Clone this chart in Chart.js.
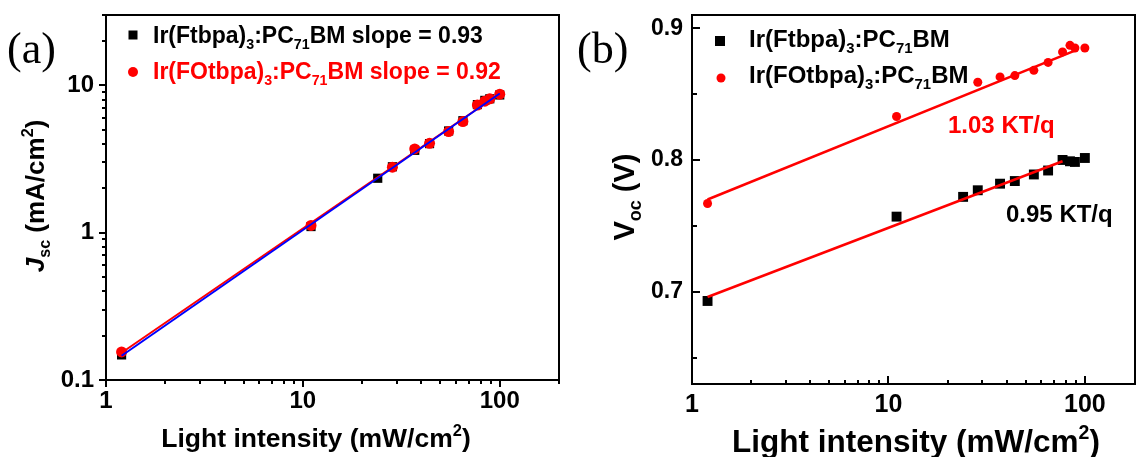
<!DOCTYPE html>
<html><head><meta charset="utf-8">
<script src="https://cdn.jsdelivr.net/npm/chart.js@4/dist/chart.umd.min.js"></script>
<style>
html,body{margin:0;padding:0;background:#fff;overflow:hidden;width:1142px;height:457px}
#wrapA{position:absolute;left:0;top:0;width:571px;height:457px}
#wrapB{position:absolute;left:571px;top:0;width:571px;height:457px}
canvas{display:block}
</style></head><body>
<div id="wrapA"><canvas id="cA" width="571" height="457"></canvas></div>
<div id="wrapB"><canvas id="cB" width="571" height="457"></canvas></div>
<script>
// ---------- data ----------
const intensityBlack = [1.2, 11, 24, 28.5, 37, 44, 55, 65, 77, 84, 89, 100];
const intensityRed   = [1.2, 11, 28.5, 37, 44, 55, 65, 77, 84, 89, 100];
const jscBlack = [0.148, 1.10, 2.34, 2.80, 3.62, 4.02, 4.90, 5.75, 7.40, 7.90, 8.10, 8.60];
const jscRed   = [0.155, 1.12, 2.78, 3.70, 4.04, 4.85, 5.68, 7.35, 7.80, 8.10, 8.70];
const fitJscX     = [1.2, 100];
const fitJscBlack = [0.146, 8.8];
const fitJscRed   = [0.153, 8.8];
const vocBlack = [0.693, 0.757, 0.772, 0.777, 0.782, 0.784, 0.789, 0.792, 0.800, 0.799, 0.7985, 0.8015];
const vocRed   = [0.767, 0.833, 0.859, 0.863, 0.864, 0.868, 0.874, 0.882, 0.887, 0.885, 0.885];
const fitVocRedX   = [1.2, 89];
const fitVocRed    = [0.770, 0.883];
const fitVocBlackX = [1.2, 77];
const fitVocBlack  = [0.696, 0.799];
const xTickLabels   = [1, 10, 100];
const jscTickLabels = [0.1, 1, 10];
const vocTicks      = [0.65, 0.7, 0.75, 0.8, 0.85, 0.9];
const vocTickLabels = ['0.7', '0.8', '0.9'];

const FONT = '"Liberation Sans", Arial, Helvetica, sans-serif';
const SERIF = '"Liberation Serif", "Times New Roman", serif';
const RED = '#ff0000', BLUE = '#0000ff', BLACK = '#000000';

const pts = (xs, ys) => xs.map((x, i) => ({x: x, y: ys[i]}));
const near = (a, b) => Math.abs(a - b) < 1e-7 * Math.max(1, Math.abs(b));
const niceLog = v => { const m = v / Math.pow(10, Math.floor(Math.log10(v) + 1e-9)); return Math.abs(m - Math.round(m)) < 1e-6; };

function fontFor(p, fs) {
  const size = (p.sub || p.sup) ? fs * 0.62 : fs;
  return (p.italic ? 'italic ' : '') + 'bold ' + size + 'px ' + FONT;
}
function drawRich(ctx, parts, x, y, fs, color, align) {
  let w = 0;
  for (const p of parts) { ctx.font = fontFor(p, fs); w += ctx.measureText(p.t).width; }
  let cx = align === 'center' ? x - w / 2 : (align === 'right' ? x - w : x);
  ctx.textBaseline = 'alphabetic'; ctx.textAlign = 'left';
  for (const p of parts) {
    ctx.font = fontFor(p, fs);
    ctx.fillStyle = p.color || color;
    const dy = p.sub ? fs * 0.24 : (p.sup ? -fs * 0.42 : 0);
    ctx.fillText(p.t, cx, y + dy);
    cx += ctx.measureText(p.t).width;
  }
}
function drawTicks(chart, id, cfg) {
  const s = chart.scales[id], ctx = chart.ctx, a = chart.chartArea;
  ctx.save(); ctx.strokeStyle = BLACK; ctx.lineWidth = 2;
  for (const t of s.ticks) {
    const v = t.value;
    if (cfg.log && !niceLog(v)) continue;
    const major = cfg.majors.some(m => near(v, m));
    const len = major ? cfg.major : cfg.minor;
    const dir = major ? cfg.majorDir : cfg.minorDir;
    const p = Math.round(s.getPixelForValue(v));
    ctx.beginPath();
    if (s.isHorizontal()) { ctx.moveTo(p, a.bottom); ctx.lineTo(p, a.bottom + dir * len); }
    else { ctx.moveTo(a.left, p); ctx.lineTo(a.left - dir * len, p); }
    ctx.stroke();
  }
  ctx.restore();
}
function frame(chart) {
  const ctx = chart.ctx, a = chart.chartArea;
  ctx.save(); ctx.strokeStyle = BLACK; ctx.lineWidth = 2;
  ctx.strokeRect(a.left, a.top, a.right - a.left, a.bottom - a.top);
  ctx.restore();
}
function marker(ctx, type, x, y, size, color) {
  ctx.fillStyle = color;
  if (type === 'rect') ctx.fillRect(x - size / 2, y - size / 2, size, size);
  else { ctx.beginPath(); ctx.arc(x, y, size / 2, 0, Math.PI * 2); ctx.fill(); }
}
const tickFont = size => ({family: FONT, size: size, weight: 'bold'});
const fitX = (h) => s => { s.height = h; s.paddingLeft = 0; s.paddingRight = 0; };
const fitY = (w) => s => { s.width = w; s.paddingTop = 0; s.paddingBottom = 0; };

// ---------- chart (a) ----------
const plugA = {
  id: 'decorA',
  afterDraw(chart) {
    const ctx = chart.ctx;
    frame(chart);
    drawTicks(chart, 'x', {log: true, majors: xTickLabels, major: 7, minor: 4, majorDir: 1, minorDir: 1});
    drawTicks(chart, 'y', {log: true, majors: jscTickLabels, major: 7, minor: 4, majorDir: 1, minorDir: 1});
    ctx.save();
    ctx.fillStyle = BLACK; ctx.font = '44px ' + SERIF; ctx.textBaseline = 'alphabetic'; ctx.textAlign = 'left';
    ctx.fillText('(a)', 7, 63);
    marker(ctx, 'rect', 133, 35, 9, BLACK);
    drawRich(ctx, [{t: 'Ir(Ftbpa)'}, {t: '3', sub: true}, {t: ':PC'}, {t: '71', sub: true}, {t: 'BM slope = 0.93'}], 153, 43, 23, BLACK, 'left');
    marker(ctx, 'circle', 133, 72, 10, RED);
    drawRich(ctx, [{t: 'Ir(FOtbpa)'}, {t: '3', sub: true}, {t: ':PC'}, {t: '71', sub: true}, {t: 'BM slope = 0.92'}], 153, 79, 23, RED, 'left');
    drawRich(ctx, [{t: 'Light intensity (mW/cm'}, {t: '2', sup: true}, {t: ')'}], 316, 447, 26.5, BLACK, 'center');
    ctx.translate(44, 196); ctx.rotate(-Math.PI / 2);
    drawRich(ctx, [{t: 'J', italic: true}, {t: 'sc', sub: true}, {t: ' (mA/cm'}, {t: '2', sup: true}, {t: ')'}], 0, 0, 26, BLACK, 'center');
    ctx.restore();
  }
};
new Chart(document.getElementById('cA'), {
  type: 'scatter',
  data: {datasets: [
    {data: pts(fitJscX, fitJscBlack), showLine: true, fill: false, borderColor: BLUE, borderWidth: 2, pointRadius: 0, order: 0},
    {data: pts(fitJscX, fitJscRed), showLine: true, fill: false, borderColor: RED, borderWidth: 2, pointRadius: 0, order: 1},
    {data: pts(intensityRed, jscRed), pointStyle: 'circle', pointRadius: 5.5, backgroundColor: RED, borderColor: RED, borderWidth: 0, order: 2},
    {data: pts(intensityBlack, jscBlack), pointStyle: 'rect', pointRadius: 6.5, backgroundColor: BLACK, borderColor: BLACK, borderWidth: 0, order: 3}
  ]},
  options: {
    responsive: false, animation: false, devicePixelRatio: 1,
    layout: {padding: {left: 0, top: 15, right: 12, bottom: 0}},
    plugins: {legend: {display: false}, tooltip: {enabled: false}},
    scales: {
      x: {type: 'logarithmic', min: 1, max: 200, grid: {display: false, drawTicks: false}, border: {display: false},
          ticks: {autoSkip: false, maxRotation: 0, minRotation: 0, padding: 7, color: BLACK, font: tickFont(24),
                  callback: v => { const l = xTickLabels.find(m => near(v, m)); return l === undefined ? '' : String(l); }},
          afterFit: fitX(77)},
      y: {type: 'logarithmic', min: 0.1, max: 30, grid: {display: false, drawTicks: false}, border: {display: false},
          ticks: {autoSkip: false, padding: 12, color: BLACK, font: tickFont(24),
                  callback: v => { const l = jscTickLabels.find(m => near(v, m)); return l === undefined ? '' : String(l); }},
          afterFit: fitY(106)}
    }
  },
  plugins: [plugA]
});

// ---------- chart (b) ----------
const plugB = {
  id: 'decorB',
  afterDraw(chart) {
    const ctx = chart.ctx;
    frame(chart);
    drawTicks(chart, 'x', {log: true, majors: xTickLabels, major: 8, minor: 4, majorDir: -1, minorDir: -1});
    drawTicks(chart, 'y', {log: false, majors: vocTickLabels.map(Number), major: 8, minor: 5, majorDir: -1, minorDir: -1});
    ctx.save();
    ctx.fillStyle = BLACK; ctx.font = '44px ' + SERIF; ctx.textBaseline = 'alphabetic'; ctx.textAlign = 'left';
    ctx.fillText('(b)', 6, 63);
    marker(ctx, 'rect', 149, 41, 10, BLACK);
    drawRich(ctx, [{t: 'Ir(Ftbpa)'}, {t: '3', sub: true}, {t: ':PC'}, {t: '71', sub: true}, {t: 'BM'}], 178, 47, 24, BLACK, 'left');
    marker(ctx, 'circle', 150, 78, 9, RED);
    drawRich(ctx, [{t: 'Ir(FOtbpa)'}, {t: '3', sub: true}, {t: ':PC'}, {t: '71', sub: true}, {t: 'BM'}], 178, 83, 24, BLACK, 'left');
    drawRich(ctx, [{t: '1.03 KT/q'}], 377, 133, 24, RED, 'left');
    drawRich(ctx, [{t: '0.95 KT/q'}], 435, 222, 24, BLACK, 'left');
    drawRich(ctx, [{t: 'Light intensity (mW/cm'}, {t: '2', sup: true}, {t: ')'}], 345, 452, 31.5, BLACK, 'center');
    ctx.translate(63, 197); ctx.rotate(-Math.PI / 2);
    drawRich(ctx, [{t: 'V'}, {t: 'oc', sub: true}, {t: ' (V)'}], 0, 0, 29, BLACK, 'center');
    ctx.restore();
  }
};
new Chart(document.getElementById('cB'), {
  type: 'scatter',
  data: {datasets: [
    {data: pts(fitVocRedX, fitVocRed), showLine: true, fill: false, borderColor: RED, borderWidth: 2.5, pointRadius: 0, order: 0},
    {data: pts(fitVocBlackX, fitVocBlack), showLine: true, fill: false, borderColor: RED, borderWidth: 2.5, pointRadius: 0, order: 1},
    {data: pts(intensityRed, vocRed), pointStyle: 'circle', pointRadius: 4.5, backgroundColor: RED, borderColor: RED, borderWidth: 0, order: 2},
    {data: pts(intensityBlack, vocBlack), pointStyle: 'rect', pointRadius: 7, backgroundColor: BLACK, borderColor: BLACK, borderWidth: 0, order: 3}
  ]},
  options: {
    responsive: false, animation: false, devicePixelRatio: 1,
    layout: {padding: {left: 0, top: 15, right: 2, bottom: 0}},
    plugins: {legend: {display: false}, tooltip: {enabled: false}},
    scales: {
      x: {type: 'logarithmic', min: 1, max: 180, grid: {display: false, drawTicks: false}, border: {display: false},
          ticks: {autoSkip: false, maxRotation: 0, minRotation: 0, padding: 6, color: BLACK, font: tickFont(25),
                  callback: v => { const l = xTickLabels.find(m => near(v, m)); return l === undefined ? '' : String(l); }},
          afterFit: fitX(73)},
      y: {type: 'linear', min: 0.63, max: 0.91, grid: {display: false, drawTicks: false}, border: {display: false},
          afterBuildTicks: s => { s.ticks = vocTicks.map(v => ({value: v})); },
          ticks: {autoSkip: false, padding: 9, color: BLACK, font: tickFont(23),
                  callback: v => { const l = vocTickLabels.find(m => near(v, Number(m))); return l === undefined ? '' : l; }},
          afterFit: fitY(121)}
    }
  },
  plugins: [plugB]
});
</script>
</body></html>
